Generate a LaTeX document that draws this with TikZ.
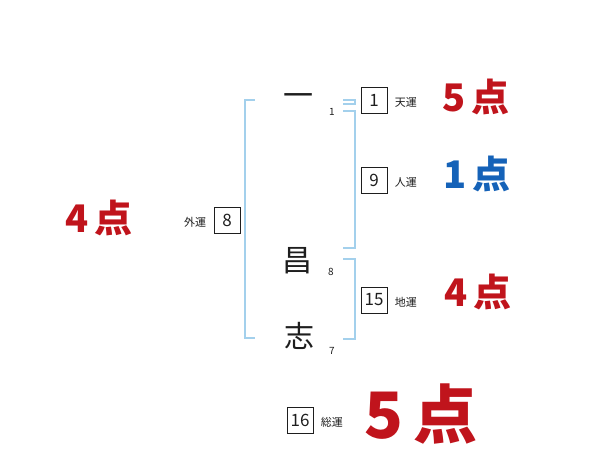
\documentclass[tikz,border=0pt]{standalone}
\usepackage{fontspec}
\newfontfamily\jp{Noto Sans CJK JP}
\usetikzlibrary{positioning}
\definecolor{brk}{HTML}{A3D0EC}
\definecolor{ink}{HTML}{1E1E1E}
\definecolor{good}{HTML}{C0141C}
\definecolor{fair}{HTML}{1562B8}
\newcommand{\Sz}[1]{\fontsize{#1}{#1}\selectfont}

\begin{document}
\begin{tikzpicture}[x=1pt,y=-1pt, font=\jp, text=ink,
    numbox/.style={draw=ink, line width=0.8pt, minimum size=26pt, inner sep=0pt, font=\jp\Sz{17}},
    unsei/.style={anchor=west, font=\jp\Sz{11}},
    kanji/.style={font=\jp\Sz{30}, inner sep=0pt},
    kaku/.style={font=\jp\Sz{10}, inner sep=0pt},
    score/.style={inner sep=0pt, font=\jp\bfseries\Sz{#1}}]
  \useasboundingbox (0,0) rectangle (600,470);
  % name characters and stroke counts
  \node[kanji] (c1) at (298,100) {一};
  \node[kanji] (c2) at (297,261) {昌};
  \node[kanji] (c3) at (299,336) {志};
  \node[kaku] (k1) at (332,112) {1};
  \node[kaku] (k2) at (331,272) {8};
  \node[kaku] (k3) at (332,351) {7};
  % brackets
  \draw[brk, line width=1.6pt] (255,100) -| (245,338) -- (255,338);
  \draw[brk, line width=1.6pt] (343,100) -- (355,100) -- (355,104) -- (343,104);
  \draw[brk, line width=1.6pt] (343,111) -| (355,248) -- (343,248);
  \draw[brk, line width=1.6pt] (343,259) -| (355,339) -- (343,339);
  % EDIT FORTUNE DATA
  \foreach \nm/\x/\y/\v/\lb in {ten/374/100/1/天運, jin/374/180/9/人運, chi/374/300/15/地運, sou/300/420/16/総運}{
    \node[numbox] (\nm) at (\x,\y) {\v};
    \node[unsei] at ([xshift=4pt,yshift=-2pt]\nm.east) {\lb};}
  \node[numbox] (gai) at (227,220) {8};
  \node[unsei, anchor=east] at ([xshift=-4pt,yshift=-2pt]gai.west) {外運};
  % scores
  \node[score=38, text=good] (s1) at (476,97) {5\,点};
  \node[score=38, text=fair] (s2) at (477,174) {1\,点};
  \node[score=38, text=good] (s3) at (478,292) {4\,点};
  \node[score=38, text=good] (s4) at (99,218) {4\,点};
  \node[score=64, text=good] (s5) at (421,414) {5\,点};
\end{tikzpicture}
\end{document}
